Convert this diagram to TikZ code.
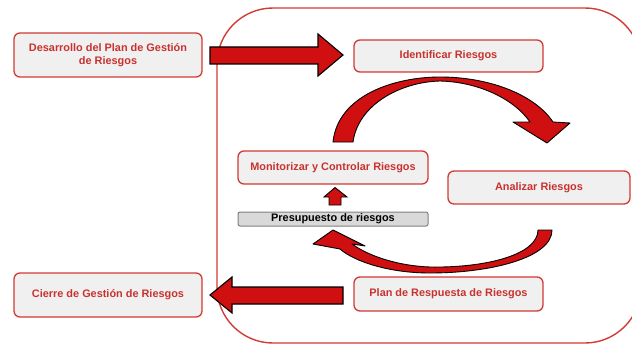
\documentclass[tikz,border=0pt]{standalone}
\usepackage{fontspec}
\setmainfont{Liberation Sans}
\usetikzlibrary{calc}
\definecolor{frame}{HTML}{D23A35}
\definecolor{boxfill}{HTML}{F1F0F0}
\definecolor{txtred}{HTML}{C8322E}
\definecolor{arrred}{HTML}{D01010}
\definecolor{budget}{HTML}{D9D9D9}
\definecolor{budgetline}{HTML}{7F7F7F}
\tikzset{
  rbox/.style={draw=frame, fill=boxfill, rounded corners=6pt, line width=1.3pt,
    text=txtred, align=center, inner sep=2pt,
    font=\bfseries\fontsize{10.9}{12.5}\selectfont},
  budgetbox/.style={draw=budgetline, fill=budget, rounded corners=2pt, line width=1pt,
    text=black, inner sep=0pt, font=\bfseries\fontsize{10.9}{12.5}\selectfont},
  blockarrow/.style={fill=arrred, draw=black, line width=1.1pt, line join=miter},
  bentarrow/.style={fill=arrred, draw=black, line width=0.9pt, line join=round},
}
\begin{document}
\begin{tikzpicture}[x=1pt, y=-1pt]
  \useasboundingbox (0,0) rectangle (632,345);
  \begin{scope}
    \clip (0,0) rectangle (632,345);
    % process frame
    \draw[frame, line width=1.4pt, rounded corners=56pt] (217,8) rectangle (641,343);
  \end{scope}

  % outer boxes
  \node[rbox, minimum width=188pt, minimum height=44pt] (des) at (108,55)
    {Desarrollo del Plan de Gestión\\de Riesgos};
  \node[rbox, minimum width=188pt, minimum height=44pt] (cie) at (108,295)
    {Cierre de Gestión de Riesgos};

  % cycle boxes
  \node[rbox, minimum width=189pt, minimum height=32pt] (ide) at (448.5,56) {Identificar Riesgos};
  \node[rbox, minimum width=190pt, minimum height=33pt] (mon) at (333,167.5) {Monitorizar y Controlar Riesgos};
  \node[rbox, minimum width=182pt, minimum height=33pt] (ana) at (539,187.5) {Analizar Riesgos};
  \node[rbox, minimum width=189pt, minimum height=34pt] (pla) at (448.5,294) {Plan de Respuesta de Riesgos};
  \node[budgetbox, minimum width=190pt, minimum height=14pt] (pre) at (333,219) {Presupuesto de riesgos};

  % block arrow: Desarrollo -> Identificar
  \draw[blockarrow] (210,47) -- (318,47) -- (318,34) -- (343,55) -- (318,76) -- (318,64) -- (210,64) -- cycle;
  % block arrow: Plan de Respuesta -> Cierre
  \draw[blockarrow] (343,287) -- (232,287) -- (232,277) -- (210,295) -- (232,313) -- (232,304) -- (343,304) -- cycle;
  % small arrow: Presupuesto -> Monitorizar
  \draw[blockarrow, line width=0.9pt] (329,205) -- (329,197) -- (324,197) -- (335,187.5) -- (347,197) -- (341,197) -- (341,205) -- cycle;

  % bent arrow: Monitorizar -> Analizar
  \draw[bentarrow] (333,142) .. controls (338,95) and (395,77) .. (440,77)
    .. controls (490,77) and (535,95) .. (553,122) -- (570,123) -- (547,143) -- (513,122) -- (530,122)
    .. controls (515,100) and (480,82) .. (440,81)
    .. controls (400,82) and (358,105) .. (353,142) -- cycle;

  % bent arrow: Analizar -> Presupuesto
  \draw[bentarrow] (552,230) .. controls (552,258) and (490,273) .. (430,273)
    .. controls (390,273) and (355,262) .. (340,249) -- (313,244) -- (333,230) -- (365,246) -- (352,244)
    .. controls (370,257) and (400,266) .. (430,267)
    .. controls (485,268) and (538,255) .. (538,230) -- cycle;
\end{tikzpicture}
\end{document}
